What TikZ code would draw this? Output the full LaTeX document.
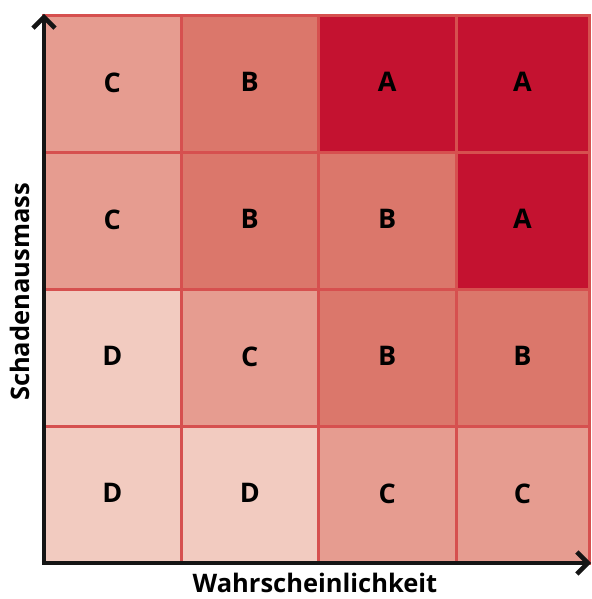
\documentclass[tikz,border=0pt]{standalone}
\usepackage{fontspec}
\setmainfont{Open Sans}
\usetikzlibrary{arrows.meta}
\definecolor{cA}{HTML}{C41230}
\definecolor{cB}{HTML}{DB776B}
\definecolor{cC}{HTML}{E69C90}
\definecolor{cD}{HTML}{F2CBC0}
\definecolor{gridred}{HTML}{D6504F}
\definecolor{axisblack}{HTML}{151515}
\begin{document}
\begin{tikzpicture}[x=1pt,y=-1pt,
  cell/.style={draw=gridred,line width=3pt,minimum width=137.5pt,minimum height=137pt,inner sep=0pt,anchor=center,font=\bfseries\fontsize{27}{27}\selectfont},
  axis/.style={draw=axisblack,line width=4.5pt,-{Straight Barb[length=11pt,width=22pt,line width=4.5pt]}},
  axlabel/.style={inner sep=0pt,font=\bfseries\fontsize{25.5}{25.5}\selectfont}]
\useasboundingbox (0,0) rectangle (591,599);
\def\xa{112.25}\def\xb{249.75}\def\xc{387.25}\def\xd{522.5}
\def\ya{84}\def\yb{221}\def\yc{358}\def\yd{495}
\newcommand{\lett}[1]{\raisebox{3.5pt}{#1}}
\node[cell,fill=cC] (r1c1) at (\xa,\ya) {\lett{C}};
\node[cell,fill=cB] (r1c2) at (\xb,\ya) {\lett{B}};
\node[cell,fill=cA] (r1c3) at (\xc,\ya) {\lett{A}};
\node[cell,fill=cA,minimum width=133pt] (r1c4) at (\xd,\ya) {\lett{A}};
\node[cell,fill=cC] (r2c1) at (\xa,\yb) {\lett{C}};
\node[cell,fill=cB] (r2c2) at (\xb,\yb) {\lett{B}};
\node[cell,fill=cB] (r2c3) at (\xc,\yb) {\lett{B}};
\node[cell,fill=cA,minimum width=133pt] (r2c4) at (\xd,\yb) {\lett{A}};
\node[cell,fill=cD] (r3c1) at (\xa,\yc) {\lett{D}};
\node[cell,fill=cC] (r3c2) at (\xb,\yc) {\lett{C}};
\node[cell,fill=cB] (r3c3) at (\xc,\yc) {\lett{B}};
\node[cell,fill=cB,minimum width=133pt] (r3c4) at (\xd,\yc) {\lett{B}};
\node[cell,fill=cD] (r4c1) at (\xa,\yd) {\lett{D}};
\node[cell,fill=cD] (r4c2) at (\xb,\yd) {\lett{D}};
\node[cell,fill=cC] (r4c3) at (\xc,\yd) {\lett{C}};
\node[cell,fill=cC,minimum width=133pt] (r4c4) at (\xd,\yd) {\lett{C}};
% axes
\coordinate (origin) at (44,563);
\coordinate (ytip) at (44,14);
\coordinate (xtip) at (591,563);
\draw[axis] (origin) -- (ytip);
\draw[axis] (origin) -- (xtip);
\draw[axisblack,line width=4.5pt] (41.75,563) -- (origin);
\node[axlabel] (xlab) at (315,583) {Wahrscheinlichkeit};
\node[axlabel,rotate=90] (ylab) at (20,292) {Schadenausmass};
\end{tikzpicture}
\end{document}
